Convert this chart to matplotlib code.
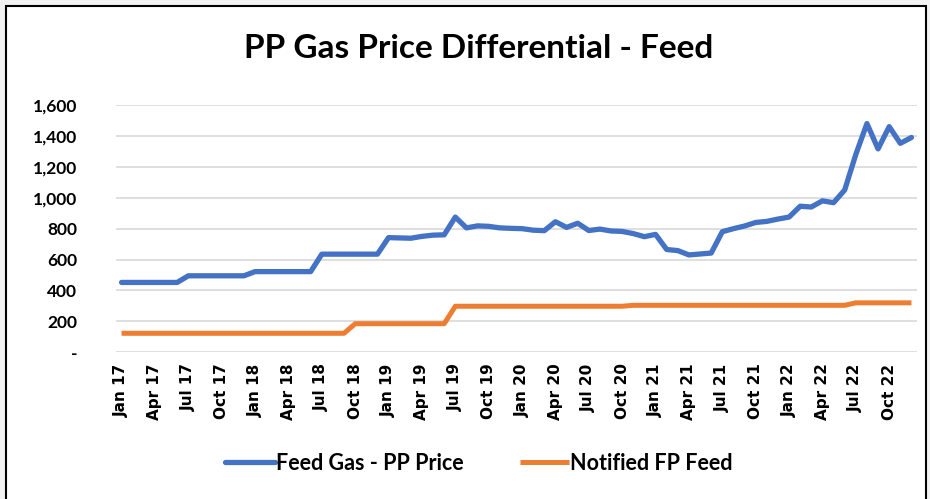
import matplotlib
matplotlib.use("Agg")
import matplotlib.pyplot as plt
import numpy as np
from matplotlib.patches import Rectangle

plt.rcParams['font.family'] = ['Lato', 'DejaVu Sans']
plt.rcParams['font.weight'] = 'bold'

# monthly data Jan 17 .. Dec 22
years = ['17', '18', '19', '20', '21', '22']
months = ['Jan', 'Feb', 'Mar', 'Apr', 'May', 'Jun',
          'Jul', 'Aug', 'Sep', 'Oct', 'Nov', 'Dec']
month_labels = [m + ' ' + y for y in years for m in months]

feed_gas = [452, 452, 452, 452, 452, 452,
            495, 495, 495, 495, 495, 495,
            522, 522, 522, 522, 522, 522,
            635, 635, 635, 635, 635, 635,
            742, 740, 738, 750, 758, 760,
            875, 805, 818, 815, 805, 802,
            800, 790, 787, 845, 808, 835,
            788, 797, 785, 782, 768, 748,
            763, 665, 658, 630, 636, 642,
            780, 800, 817, 840, 847, 862,
            875, 945, 940, 980, 968, 1050,
            1280, 1480, 1316, 1460, 1352, 1390]

notified_fp = [123] * 21 + [185] * 9 + [298] * 16 + [304] * 20 + [320] * 6

x = np.arange(len(month_labels))

fig = plt.figure(figsize=(9.3, 4.99), dpi=100)
fig.patch.set_facecolor('#f2f2f2')
# white chart area with black frame
frame = Rectangle((6 / 930, -0.05), 920 / 930, 1.05 - 6 / 499,
                  transform=fig.transFigure, facecolor='white',
                  edgecolor='black', linewidth=1.5, zorder=-5)
fig.add_artist(frame)

ax = fig.add_axes([116 / 930, 1 - 352.3 / 499, 801 / 930, 247.3 / 499])
ax.set_facecolor('none')

ax.plot(x, feed_gas, color='#4472C4', lw=3.8, solid_capstyle='round',
        solid_joinstyle='round', label='Feed Gas - PP Price', zorder=3)
ax.plot(x, notified_fp, color='#ED7D31', lw=3.6, solid_capstyle='butt',
        label='Notified FP Feed', zorder=3)

ax.set_xlim(-0.5, len(x) - 0.5)
ax.set_ylim(0, 1600)
yt = np.arange(0, 1601, 200)
ax.set_yticks(yt)
ax.set_yticklabels(['-'] + [f'{v:,}' for v in yt[1:]], fontsize=12.5, fontweight='bold')
ax.set_xticks(x[::3])
ax.set_xticklabels(month_labels[::3], rotation=90, fontsize=11, fontweight='bold',
                   family='DejaVu Sans')
ax.tick_params(axis='x', length=0, pad=8)
ax.tick_params(axis='y', length=0, pad=28)
ax.grid(axis='y', color='#d9d9d9', lw=1.2)
for s in ax.spines.values():
    s.set_visible(False)

fig.text(479 / 930, 1 - 49 / 499, 'PP Gas Price Differential - Feed',
         ha='center', va='center', fontsize=24, fontweight='bold')

fig.legend(loc='center', bbox_to_anchor=(0.5 + 14 / 930, 1 - 463 / 499), ncol=2,
           frameon=False, prop={'size': 15.5, 'weight': 'bold'},
           handlelength=2.3, handletextpad=0.05, columnspacing=2.6)

fig.savefig('out.png', dpi=100)
